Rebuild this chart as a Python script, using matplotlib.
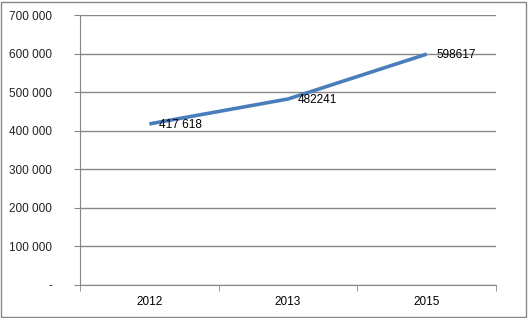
import matplotlib.pyplot as plt
from matplotlib.patches import Rectangle

years = ["2012", "2013", "2015"]
values = [417618, 482241, 598617]
point_labels = ["417 618", "482241", "598617"]
yticks = [0, 100000, 200000, 300000, 400000, 500000, 600000, 700000]
ytick_labels = ["-", "100 000", "200 000", "300 000", "400 000", "500 000", "600 000", "700 000"]

plt.rcParams['font.family'] = ['Liberation Sans', 'DejaVu Sans']

fig = plt.figure(figsize=(5.28, 3.18), dpi=100)
ax = fig.add_axes([80/528, 1 - 285/318, 416/528, 270/318])

x = list(range(len(years)))
ax.plot(x, values, color='#4A7EBB', linewidth=2.6, solid_capstyle='butt', zorder=3)
for xi, v, lab in zip(x, values, point_labels):
    ax.annotate(lab, (xi, v), xytext=(7, -1), textcoords='offset points',
                va='center', ha='left', fontsize=8.5, color='black', zorder=4)

ax.set_xlim(-0.5, len(years) - 0.5)
ax.set_ylim(0, 700000)
ax.set_yticks(yticks)
ax.set_yticklabels(ytick_labels, fontsize=8.5)
ax.set_xticks(x)
ax.set_xticklabels(years, fontsize=8.5)
ax.set_xticks([-0.5, 0.5, 1.5, 2.5], minor=True)
ax.tick_params(axis='x', which='major', length=0, pad=8)
ax.tick_params(axis='x', which='minor', length=4, color='#868686', direction='out')
ax.tick_params(axis='y', length=4, color='#868686', pad=16, labelcolor='#222222')

ax.grid(axis='y', color='#878787', linewidth=1)
ax.set_axisbelow(True)
for s in ['top', 'right']:
    ax.spines[s].set_visible(False)
ax.spines['left'].set_color('#868686')
ax.spines['bottom'].set_color('#868686')

fig.patches.append(Rectangle((1/528, 1/318), 525/528, 315/318, transform=fig.transFigure,
                             fill=False, edgecolor='#868686', linewidth=1))

fig.savefig('out.png', dpi=100)
